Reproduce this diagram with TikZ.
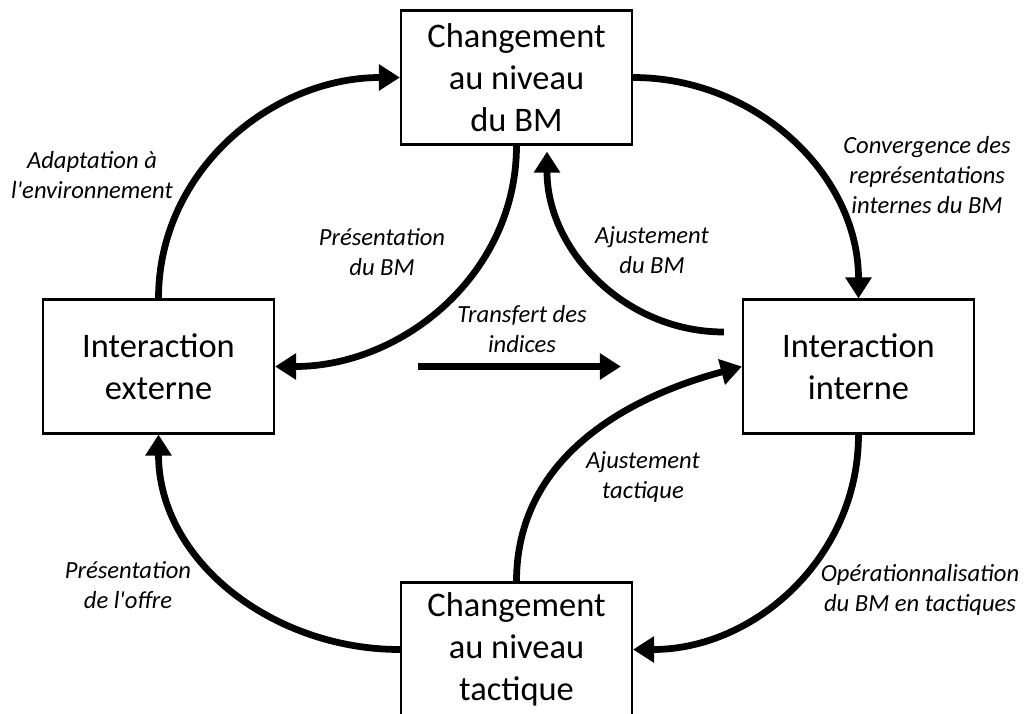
\documentclass[tikz,border=0pt]{standalone}
\usepackage{fontspec}
\setmainfont{Carlito}
\usetikzlibrary{arrows.meta,calc}

\begin{document}
\begin{tikzpicture}[x=0.025cm,y=0.025cm,
  box/.style={draw=black, line width=1.5pt, fill=white, minimum width=5.775cm, minimum height=3.35cm, inner sep=0pt, align=center, font=\fontsize{24.5}{30}\selectfont},
  lab/.style={align=center, font=\fontsize{17.5}{21.3}\selectfont\itshape},
  flow/.style={line width=4.8pt, -{Triangle[length=15pt,width=18pt]}}]
\clip (0,0) rectangle (1026,-713);
% boxes
\node[box] (top) at (516.5,-77.5) {Changement\\au niveau\\du BM};
\node[box] (extE) at (158.5,-366.5) {Interaction\\externe};
\node[box] (intI) at (858.5,-366.5) {Interaction\\interne};
\node[box] (bot) at (516.5,-649.5) {Changement\\au niveau\\tactique};
% free ends
\coordinate (ajbm) at ($(intI.west)+(-18,34.5)$);
\coordinate (ajbmtip) at ($(top.south)+(30.5,-6)$);
% arrows
\draw[flow] (extE.north) to[out=90,in=180] (top.west);
\draw[flow] (top.east) to[out=0,in=90] (intI.north);
\draw[flow] (top.south) to[out=-90,in=0] (extE.east);
\draw[flow] (ajbm) to[out=180,in=-90] (ajbmtip);
\draw[flow, shorten <=3.575cm, shorten >=3.025cm] (extE.east) -- (intI.west);
\draw[flow] (bot.north) to[out=90,in=195] (intI.west);
\draw[flow] (intI.south) to[out=-90,in=0] (bot.east);
\draw[flow] (bot.west) to[out=180,in=-90] (extE.south);
% labels
\node[lab] (adapt) at (92,-175) {Adaptation à\\l\textquotesingle environnement};
\node[lab] (conv) at (927,-175) {Convergence des\\représentations\\internes du BM};
\node[lab] (presbm) at (382,-252) {Présentation\\du BM};
\node[lab] (ajustbm) at (652,-250) {Ajustement\\du BM};
\node[lab] (transf) at (522,-329) {Transfert des\\indices};
\node[lab] (ajtact) at (643,-477) {Ajustement\\tactique};
\node[lab] (oper) at (920,-590) {Opérationnalisation\\du BM en tactiques};
\node[lab] (presoff) at (128,-585) {Présentation\\de l\textquotesingle offre};
\end{tikzpicture}
\end{document}
